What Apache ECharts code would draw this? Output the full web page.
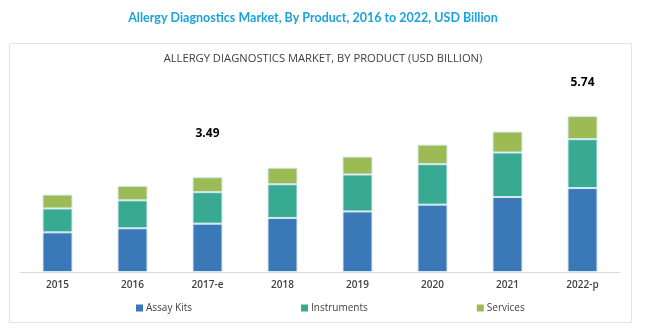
<!DOCTYPE html>
<html><head><meta charset="utf-8">
<script src="https://cdn.jsdelivr.net/npm/echarts@6/dist/echarts.min.js"></script>
<style>html,body{margin:0;padding:0;background:#fff}#c{width:646px;height:332px}</style>
</head><body><div id="c"></div>
<script>
const categories = ['2015','2016','2017-e','2018','2019','2020','2021','2022-p'];
const assayKits   = [1.46, 1.61, 1.78, 1.99, 2.23, 2.48, 2.76, 3.09];
const instruments = [0.88, 1.03, 1.16, 1.24, 1.36, 1.49, 1.64, 1.80];
const services    = [0.51, 0.53, 0.55, 0.61, 0.66, 0.72, 0.77, 0.85];
const totalLabels = ['', '', '3.49', '', '', '', '', '5.74'];
const labelGap    = [0, 0, 38, 0, 0, 0, 0, 28];

const chart = echarts.init(document.getElementById('c'), null, {renderer:'canvas'});
const barBorder = {borderColor:'#d6e8f2', borderWidth:1};
chart.setOption({
  animation:false,
  title:[
    {text:'Allergy Diagnostics Market, By Product, 2016 to 2022, USD Billion', left:313, top:11, textAlign:'center', padding:0,
     textStyle:{fontFamily:'Lato', fontWeight:'bold', fontSize:12.5, color:'#1aa3dc'}},
    {text:'ALLERGY DIAGNOSTICS MARKET, BY PRODUCT (USD BILLION)', left:323, top:53, textAlign:'center', padding:0,
     textStyle:{fontFamily:'Open Sans', fontWeight:'normal', fontSize:11.2, color:'#404040'}}
  ],
  graphic:[{type:'rect', shape:{x:9.5, y:43.5, width:622, height:279}, style:{fill:'none', stroke:'#e3e3e3', lineWidth:1}, z:-1}],
  grid:{left:20, right:26, top:71, bottom:60},
  legend:{left:131, top:298, itemWidth:7, itemHeight:7, itemGap:109, icon:'rect',
    itemStyle:{borderWidth:0},
    textStyle:{fontFamily:'Open Sans', fontSize:10, color:'#404040', padding:[0,0,0,-2]},
    data:['Assay Kits','Instruments','Services']},
  xAxis:{type:'category', data:categories,
    axisLine:{lineStyle:{color:'#d9d9d9', width:1}}, axisTick:{show:false},
    axisLabel:{fontFamily:'Open Sans', fontWeight:600, fontSize:10, color:'#404040', margin:8}},
  yAxis:{type:'value', min:0, max:7.4, show:false, splitLine:{show:false}},
  series:[
    {name:'Assay Kits', type:'bar', stack:'t', data:assayKits, barWidth:30,
     itemStyle:Object.assign({color:'#3a78b8'}, barBorder)},
    {name:'Instruments', type:'bar', stack:'t', data:instruments,
     itemStyle:Object.assign({color:'#38aa92'}, barBorder)},
    {name:'Services', type:'bar', stack:'t',
     data:services.map((v,i)=>({value:v, label:{show:totalLabels[i]!=='', distance:labelGap[i]}})),
     itemStyle:Object.assign({color:'#9dbb55'}, barBorder),
     label:{position:'top', formatter:p=>totalLabels[p.dataIndex], fontFamily:'Open Sans', fontWeight:'bold', fontSize:12, color:'#000'}}
  ]
});
</script></body></html>
